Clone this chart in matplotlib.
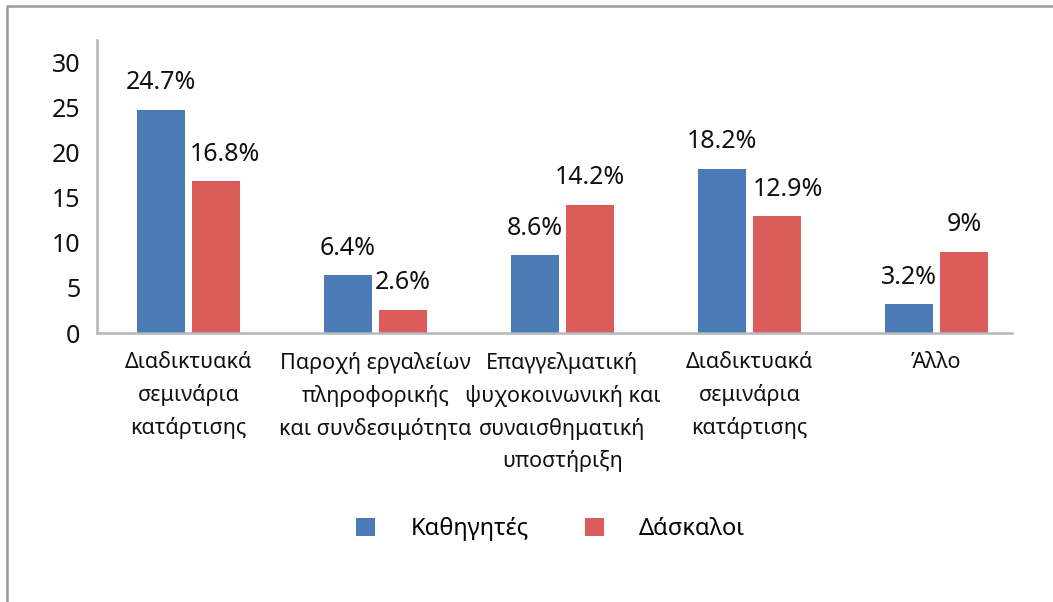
import matplotlib
matplotlib.use("Agg")
import matplotlib.pyplot as plt
import numpy as np
from matplotlib.lines import Line2D
from matplotlib.patches import Patch

plt.rcParams["font.family"] = ["Noto Sans", "DejaVu Sans"]

categories = [
    "Διαδικτυακά\nσεμινάρια\nκατάρτισης",
    "Παροχή εργαλείων\nπληροφορικής\nκαι συνδεσιμότητα",
    "Επαγγελματική\nψυχοκοινωνική και\nσυναισθηματική\nυποστήριξη",
    "Διαδικτυακά\nσεμινάρια\nκατάρτισης",
    "Άλλο",
]
series_names = ["Καθηγητές", "Δάσκαλοι"]
teachers_sec = [24.7, 6.4, 8.6, 18.2, 3.2]
teachers_pri = [16.8, 2.6, 14.2, 12.9, 9.0]
value_labels_sec = ["24.7%", "6.4%", "8.6%", "18.2%", "3.2%"]
value_labels_pri = ["16.8%", "2.6%", "14.2%", "12.9%", "9%"]

blue = "#4A7BB7"
red = "#DB5C5B"

fig = plt.figure(figsize=(10.53, 6.02), dpi=100)
ax = fig.add_axes([0.0921, 0.4468, 0.8689, 0.4868])

x = np.arange(len(categories))
w = 0.257
off = 0.147
b1 = ax.bar(x - off, teachers_sec, w, color=blue)
b2 = ax.bar(x + off, teachers_pri, w, color=red)

# label offsets in pixels (a couple were nudged sideways in the original)
dx_sec = [0, 0, 0, 0, 0]
dx_pri = [9, 0, 0, 11, 0]
px = 0.72
for bars, labels, dxs in ((b1, value_labels_sec, dx_sec), (b2, value_labels_pri, dx_pri)):
    for r, lab, dx in zip(bars, labels, dxs):
        ax.annotate(lab, (r.get_x() + r.get_width() / 2, r.get_height()),
                    xytext=(dx * px, 27 * px), textcoords="offset points",
                    ha="center", va="center", fontsize=18, color="#111111")

ax.set_xlim(-0.489, 4.404)
ax.set_ylim(0, 32.44)
ax.set_yticks([0, 5, 10, 15, 20, 25, 30])
ax.set_xticks(x)
ax.set_xticklabels(categories, fontsize=15.5, linespacing=1.62, color="#111111")
ax.tick_params(axis="y", length=0, pad=12, labelsize=18, labelcolor="#111111")
ax.tick_params(axis="x", length=0, pad=14)

for s in ("top", "right"):
    ax.spines[s].set_visible(False)
for s in ("left", "bottom"):
    ax.spines[s].set_color("#B4B8BC")
    ax.spines[s].set_linewidth(1.8)

handles = [Patch(facecolor=blue), Patch(facecolor=red)]
fig.legend(handles, series_names, loc="center", bbox_to_anchor=(0.523, 0.121),
           ncol=2, frameon=False, fontsize=17, handlelength=0.8, handleheight=0.8,
           handletextpad=1.48, columnspacing=2.4)

# outer frame (left and top edges only visible)
fig.add_artist(Line2D([7 / 1053, 7 / 1053, 1.0], [0.0, 1 - 6 / 602, 1 - 6 / 602],
                      transform=fig.transFigure, color="#9A9A9A", linewidth=1.8))

fig.savefig("out.png", dpi=100)
